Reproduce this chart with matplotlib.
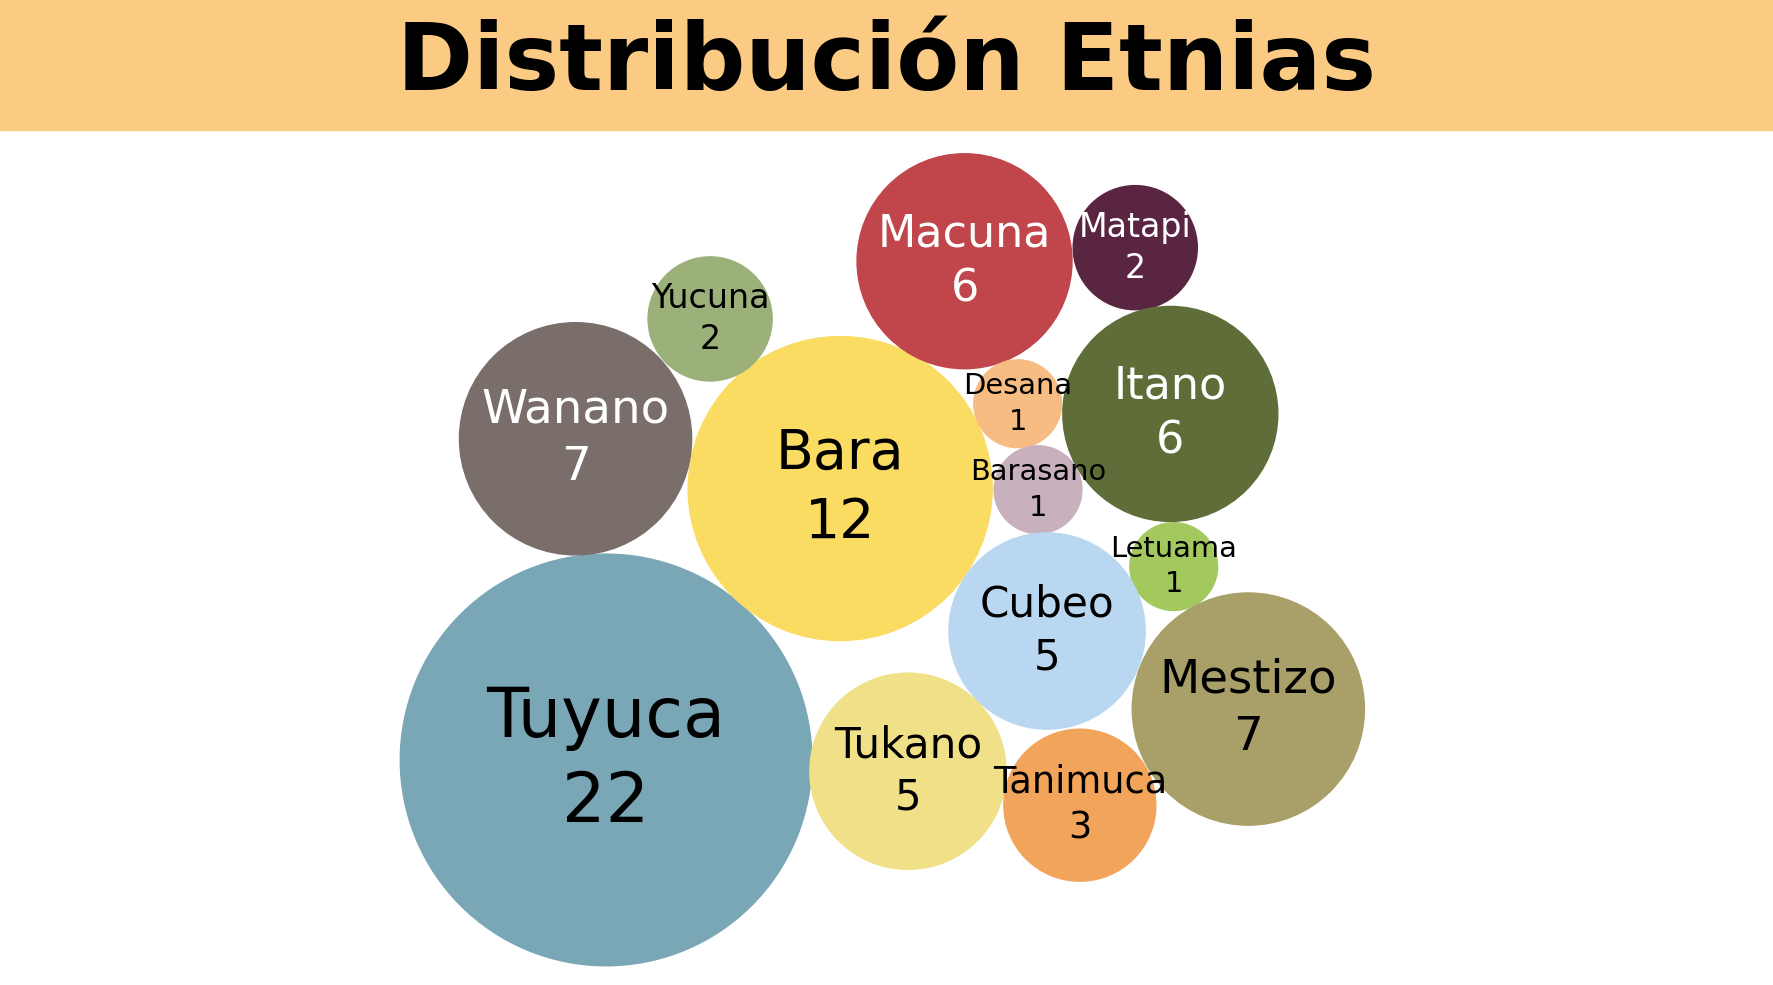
import matplotlib
matplotlib.use("Agg")
import matplotlib.pyplot as plt
import numpy as np
from matplotlib.patches import Circle, Rectangle

names = ["Tuyuca","Bara","Wanano","Yucuna","Macuna","Matapi","Desana","Itano",
         "Barasano","Letuama","Cubeo","Mestizo","Tukano","Tanimuca"]
values = [22,12,7,2,6,2,1,6,1,1,5,7,5,3]
colors = ["#79A7B5","#FBDC63","#7A6E6B","#9CB07A","#C0464B","#5A2540","#F6BC82",
          "#5F6E38","#C8B0BC","#A3C95E","#B9D7F0","#A8A068","#F0E088","#F2A55A"]
text_colors = ["black","black","white","black","white","white","black",
               "white","black","black","black","black","black","black"]
# layout positions (packing)
cx = [536,743,509,628,853,1004,900,1035,918,1038,926,1104,803,955]
cy = [672,432,388,282,231,219,357,366,433,501,558,627,682,712]

W, H = 1568, 871
fig = plt.figure(figsize=(17.73, 9.85), dpi=100)
ax = fig.add_axes([0,0,1,1])
ax.set_xlim(0, W); ax.set_ylim(H, 0); ax.axis("off")
fam = ["Liberation Sans Narrow", "DejaVu Sans"]

ax.add_patch(Rectangle((0,0), W, 115, color="#FBCB84", zorder=0))
ax.text(W/2, 57, "Distribución Etnias", ha="center", va="center",
        fontsize=66, fontweight="bold", family=fam, color="black")

k = 182/np.sqrt(22)
px2data = 1/1.1307
for n, v, c, tc, x, y in zip(names, values, colors, text_colors, cx, cy):
    r = k*np.sqrt(v)
    ax.add_patch(Circle((x, y), r, color=c, zorder=1))
    fs = 13 + 0.2*r
    off = 0.62*fs/0.72*px2data
    ax.text(x, y-off, n, ha="center", va="center", fontsize=fs, color=tc, family=fam, zorder=2)
    ax.text(x, y+off, str(v), ha="center", va="center", fontsize=fs, color=tc, family=fam, zorder=2)

fig.savefig("out.png", dpi=100)
